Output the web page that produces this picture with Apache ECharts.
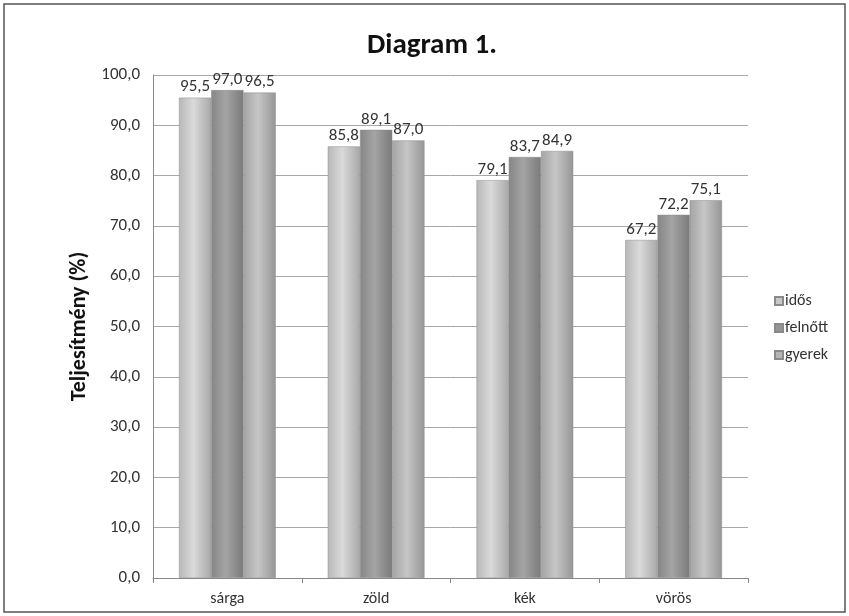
<!DOCTYPE html>
<html><head><meta charset="utf-8">
<script src="https://cdn.jsdelivr.net/npm/echarts@6/dist/echarts.min.js"></script>
<style>html,body{margin:0;padding:0;background:#fff}#c{width:849px;height:616px}</style>
</head><body><div id="c"></div>
<script>
const categories = ['sárga', 'zöld', 'kék', 'vörös'];
const seriesNames = ['idős', 'felnőtt', 'gyerek'];
const idos = [95.5, 85.8, 79.1, 67.2];
const felnott = [97.0, 89.1, 83.7, 72.2];
const gyerek = [96.5, 87.0, 84.9, 75.1];
const colors = [['#b8b8b8','#dadada','#a8a8a8'], ['#868686','#a4a4a4','#7a7a7a'], ['#a4a4a4','#c6c6c6','#969696']];
const flat = ['#c8c8c8','#959595','#b5b5b5'];

function grad(c){return {type:'linear',x:0,y:0,x2:1,y2:0,colorStops:[{offset:0,color:c[0]},{offset:0.45,color:c[1]},{offset:1,color:c[2]}]};}
const font = 'Calibri, Carlito, Lato, "Open Sans", sans-serif';
const dataSets = [idos, felnott, gyerek];
const chart = echarts.init(document.getElementById('c'));
chart.setOption({
  animation:false,
  backgroundColor:'#fff',
  graphic:[{type:'rect',shape:{x:4,y:4,width:841,height:608},style:{fill:'none',stroke:'#555',lineWidth:1.5}}],
  title:{text:'Diagram 1.',left:427,top:26,textAlign:'center',textStyle:{fontFamily:font,fontSize:29,fontWeight:'bold',color:'#111'}},
  legend:{orient:'vertical',left:769,top:288,itemWidth:8,itemHeight:8,itemGap:11,icon:'rect',
    textStyle:{fontFamily:font,fontSize:16,color:'#333',padding:[0,0,0,-3]},data:seriesNames.map((n,i)=>({name:n,itemStyle:{color:flat[i]}}))},
  grid:{left:153,right:101,top:75,bottom:38},
  xAxis:{type:'category',data:categories,
    axisLine:{lineStyle:{color:'#888'}},axisTick:{show:true,length:5,lineStyle:{color:'#888'}},
    axisLabel:{fontFamily:font,fontSize:16,color:'#333',margin:13}},
  yAxis:{type:'value',min:0,max:100,interval:10,name:'Teljesítmény (%)',nameLocation:'middle',nameGap:58,
    nameTextStyle:{fontFamily:font,fontSize:22,fontWeight:'bold',color:'#111'},
    axisLine:{show:true,lineStyle:{color:'#888'}},axisTick:{show:false},
    splitLine:{lineStyle:{color:'#a8a8a8'}},
    axisLabel:{fontFamily:font,fontSize:17,color:'#333',margin:13,formatter:v=>v.toFixed(1).replace('.',',')}},
  series:seriesNames.map((n,i)=>({name:n,type:'bar',data:dataSets[i],barGap:'0%',barCategoryGap:'35%',
    itemStyle:{color:grad(colors[i]),borderColor:'#8a8a8a',borderWidth:0.5},
    label:{show:true,position:'top',distance:2,fontFamily:font,fontSize:17,color:'#333',formatter:p=>p.value.toFixed(1).replace('.',',')}}))
});
</script></body></html>
